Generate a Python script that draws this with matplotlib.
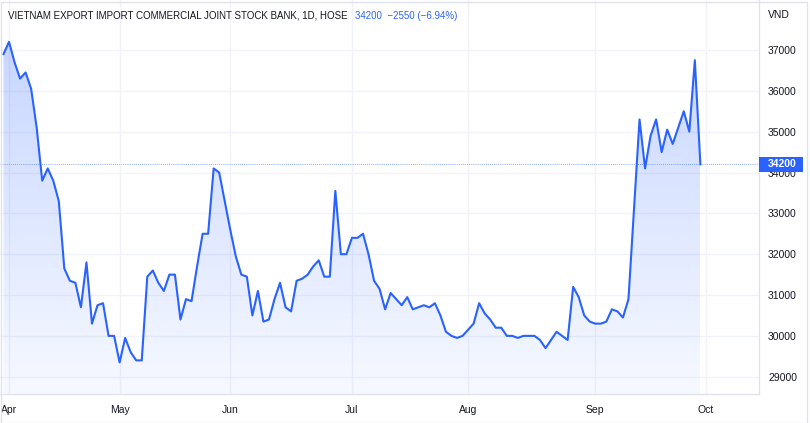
import numpy as np
import pandas as pd
import matplotlib
matplotlib.use("Agg")
import matplotlib.pyplot as plt
from matplotlib.patches import Rectangle, Polygon

# ---------------- data ----------------
start_date = "2022-03-31"
end_date = "2022-09-30"
holidays = ["2022-04-11", "2022-05-02", "2022-05-03", "2022-09-01", "2022-09-02"]

close_prices = [
    36900, 37200, 36700, 36300, 36450, 36050, 35100, 33800, 34100, 33800,
    33300, 31650, 31350, 31300, 30700, 31800, 30300, 30750, 30800, 30000,
    30000, 29350, 29950, 29600, 29400, 29400, 31450, 31600, 31300, 31100,
    31500, 31500, 30400, 30900, 30850, 31700, 32500, 32500, 34100, 34000,
    33300, 32600, 31950, 31500, 31450, 30500, 31100, 30350, 30400, 30900,
    31300, 30700, 30600, 31350, 31400, 31500, 31700, 31850, 31450, 31450,
    33550, 32000, 32000, 32400, 32400, 32500, 32000, 31350, 31150, 30650,
    31050, 30900, 30750, 30950, 30650, 30700, 30750, 30700, 30800, 30500,
    30100, 30000, 29950, 30000, 30150, 30300, 30800, 30550, 30400, 30200,
    30200, 30000, 30000, 29950, 30000, 30000, 30000, 29900, 29700, 29900,
    30100, 30000, 29900, 31200, 30950, 30500, 30350, 30300, 30300, 30350,
    30650, 30600, 30450, 30900, 33100, 35300, 34100, 34900, 35300, 34500,
    35050, 34700, 35100, 35500, 35000, 36750, 34200,
]

y_ticks = [29000, 30000, 31000, 32000, 33000, 34000, 35000, 36000, 37000]
month_labels = ["Apr", "May", "Jun", "Jul", "Aug", "Sep", "Oct"]

title_text = "VIETNAM EXPORT IMPORT COMMERCIAL JOINT STOCK BANK, 1D, HOSE"
last_price = 34200
change_text = "34200  \u22122550 (\u22126.94%)"
currency = "VND"

# ---------------- derived ----------------
dates = pd.bdate_range(start_date, end_date)
dates = dates[~dates.isin(pd.to_datetime(holidays))]
idx = np.arange(len(close_prices))
prices = np.array(close_prices, dtype=float)

month_pos = []
for m in [4, 5, 6, 7, 8, 9]:
    month_pos.append(int(np.argmax(dates.month == m)))
month_pos.append(len(dates))  # first bar of October (future)

# ---------------- style ----------------
BLUE = "#2962FF"
TEXT = "#131722"
GRID = "#F0F3FA"
BORDER = "#E0E3EB"
FS = 7.5

plt.rcParams["font.family"] = ["Liberation Sans", "DejaVu Sans"]

W, H = 810, 423
fig = plt.figure(figsize=(W / 100, H / 100), dpi=100)
fig.patch.set_facecolor("white")

ax_l, ax_r, ax_b, ax_t = 0.0, 759 / W, (H - 394) / H, 1.0
ax = fig.add_axes([ax_l, ax_b, ax_r - ax_l, ax_t - ax_b])
ax.set_facecolor("white")

xmin, xmax = -0.63, 136.6
ymin, ymax = 28577, 38224
ax.set_xlim(xmin, xmax)
ax.set_ylim(ymin, ymax)

# grid
for v in y_ticks:
    ax.axhline(v, color=GRID, lw=1.0, zorder=0)
for p in month_pos:
    ax.axvline(p, color=GRID, lw=1.0, zorder=0)

# gradient fill under line
top_v = prices.max()
grad = np.linspace(0.26, 0.04, 256).reshape(-1, 1)
rgba = np.zeros((256, 1, 4))
rgba[..., 0] = 41 / 255
rgba[..., 1] = 98 / 255
rgba[..., 2] = 1.0
rgba[..., 3] = grad
im = ax.imshow(rgba, extent=[idx[0], idx[-1], ymin, top_v], aspect="auto",
               origin="upper", zorder=1, interpolation="bilinear")
poly_xy = np.column_stack([np.r_[idx, idx[-1], idx[0]],
                           np.r_[prices, ymin, ymin]])
clip = Polygon(poly_xy, closed=True, transform=ax.transData, facecolor="none",
               edgecolor="none")
ax.add_patch(clip)
im.set_clip_path(clip)

# price line
ax.plot(idx, prices, color=BLUE, lw=1.5, zorder=3, solid_joinstyle="round")

# last price dotted line
ax.axhline(last_price, color=BLUE, lw=0.6, ls=(0, (1, 1.5)), alpha=0.7, zorder=2)

# axes styling
for s in ["top", "left"]:
    ax.spines[s].set_visible(False)
ax.spines["right"].set_color(BORDER)
ax.spines["bottom"].set_color(BORDER)
ax.spines["right"].set_linewidth(1.0)
ax.spines["bottom"].set_linewidth(1.0)

ax.yaxis.tick_right()
ax.set_yticks(y_ticks)
ax.set_yticklabels([str(v) for v in y_ticks])
ax.tick_params(axis="y", length=0, pad=6.5, labelsize=FS, labelcolor=TEXT)
ax.set_xticks(month_pos)
ax.set_xticklabels(month_labels)
ax.tick_params(axis="x", length=0, pad=8, labelsize=FS, labelcolor=TEXT)

# price label box on the axis
ybox = ax.transData.transform((0, last_price))[1]
yfig = ybox / H
box = Rectangle((759 / W, yfig - 7.5 / H), 44 / W, 15 / H, transform=fig.transFigure,
                facecolor=BLUE, edgecolor="none", zorder=10)
fig.patches.append(box)
fig.text(782 / W, yfig, str(last_price), color="white", fontsize=FS,
         ha="center", va="center", fontweight="bold", zorder=11)

# title and currency
t1 = fig.text(8 / W, 1 - 16 / H, title_text, color=TEXT, fontsize=7.0,
              ha="left", va="center")
fig.canvas.draw()
bb = t1.get_window_extent(renderer=fig.canvas.get_renderer())
fig.text((bb.x1 + 7) / W, 1 - 16 / H, change_text, color=BLUE, fontsize=7.0,
         ha="left", va="center")
fig.text(768 / W, 1 - 15 / H, currency, color=TEXT, fontsize=FS,
         ha="left", va="center")

# outer border
fig.patches.append(Rectangle((0.5 / W, 0.5 / H), (W - 4) / W, (H - 3) / H,
                             transform=fig.transFigure, facecolor="none",
                             edgecolor=BORDER, lw=1.0, zorder=0))

fig.savefig("out.png", dpi=100, facecolor="white")
